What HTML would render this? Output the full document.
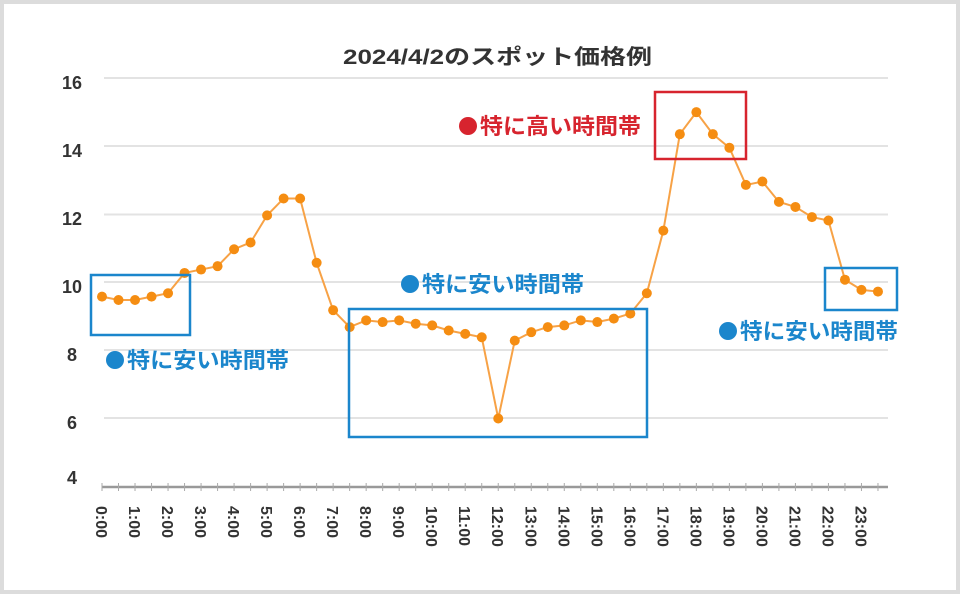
<!DOCTYPE html>
<html><head><meta charset="utf-8"><style>
html,body{margin:0;padding:0;background:#fff}
svg{display:block}
text{font-family:"Liberation Sans","Noto Sans CJK JP",sans-serif}
</style></head><body>
<svg width="960" height="594" viewBox="0 0 960 594" xmlns="http://www.w3.org/2000/svg">
<rect x="2" y="2" width="956" height="590" fill="#fff" stroke="#dcdcdc" stroke-width="4"/>
<text x="343" y="64" textLength="309" lengthAdjust="spacingAndGlyphs" font-size="21" font-weight="bold" fill="#333">2024/4/2のスポット価格例</text>
<g stroke="#e3e3e3" stroke-width="2">
<line x1="104" y1="78" x2="888" y2="78"/>
<line x1="104" y1="146" x2="888" y2="146"/>
<line x1="104" y1="214.5" x2="888" y2="214.5"/>
<line x1="104" y1="282" x2="888" y2="282"/>
<line x1="104" y1="350" x2="888" y2="350"/>
<line x1="104" y1="418" x2="888" y2="418"/>
</g>
<line x1="102" y1="487" x2="888" y2="487" stroke="#999" stroke-width="2.5"/>
<g font-size="18" font-weight="bold" fill="#333" text-anchor="middle">
<text x="72" y="89">16</text><text x="72" y="157">14</text><text x="72" y="225">12</text>
<text x="72" y="293">10</text><text x="72" y="361">8</text><text x="72" y="429">6</text><text x="72" y="484">4</text>
</g>
<g id="ticks" stroke="#aaa" stroke-width="1"></g>
<g id="xl" font-size="16" font-weight="bold" fill="#333"></g>
<polyline id="ln" fill="none" stroke="#f7a246" stroke-width="2"/>
<g id="pts" fill="#f58d12"></g>
<g fill="none" stroke-width="2.5">
<rect x="91" y="275" width="99" height="60" stroke="#1b86cc"/>
<rect x="349" y="309" width="298" height="128" stroke="#1b86cc"/>
<rect x="825" y="268" width="72" height="42" stroke="#1b86cc"/>
<rect x="655" y="92" width="91" height="67" stroke="#d7242e"/>
</g>
<g font-size="22" font-weight="bold">
<circle cx="115" cy="360" r="9" fill="#1b86cc"/>
<text x="127" y="368" textLength="162" lengthAdjust="spacingAndGlyphs" fill="#1b86cc">特に安い時間帯</text>
<circle cx="410" cy="284" r="9" fill="#1b86cc"/>
<text x="422" y="292" textLength="162" lengthAdjust="spacingAndGlyphs" fill="#1b86cc">特に安い時間帯</text>
<circle cx="728" cy="331" r="9" fill="#1b86cc"/>
<text x="740" y="339" textLength="158" lengthAdjust="spacingAndGlyphs" fill="#1b86cc">特に安い時間帯</text>
<circle cx="468" cy="126" r="9" fill="#d7242e"/>
<text x="480" y="134" textLength="161" lengthAdjust="spacingAndGlyphs" fill="#d7242e">特に高い時間帯</text>
</g>
</svg>
<script>
var d=[9.6,9.5,9.5,9.6,9.7,10.3,10.4,10.5,11.0,11.2,12.0,12.5,12.5,10.6,9.2,8.7,8.9,8.85,8.9,8.8,8.75,8.6,8.5,8.4,6.0,8.3,8.55,8.7,8.75,8.9,8.85,8.95,9.1,9.7,11.55,14.4,15.05,14.4,14.0,12.9,13.0,12.4,12.25,11.95,11.85,10.1,9.8,9.75];
var ns="http://www.w3.org/2000/svg",pts="",g=document.getElementById("pts"),t=document.getElementById("ticks"),xl=document.getElementById("xl");
function X(i){return 102+i*16.51}function Y(v){return 80+(16-v)*33.85}
d.forEach(function(v,i){var x=X(i),y=Y(v);pts+=x+","+y+" ";var c=document.createElementNS(ns,"circle");c.setAttribute("cx",x);c.setAttribute("cy",y);c.setAttribute("r",5);g.appendChild(c);
var l=document.createElementNS(ns,"line");l.setAttribute("x1",x);l.setAttribute("x2",x);l.setAttribute("y1",483);l.setAttribute("y2",491);t.appendChild(l);
if(i%2==0){var tx=document.createElementNS(ns,"text");tx.setAttribute("transform","translate("+(x-6)+",506) rotate(90)");tx.textContent=(i/2)+":00";xl.appendChild(tx);}});
document.getElementById("ln").setAttribute("points",pts);
</script>
</body></html>
